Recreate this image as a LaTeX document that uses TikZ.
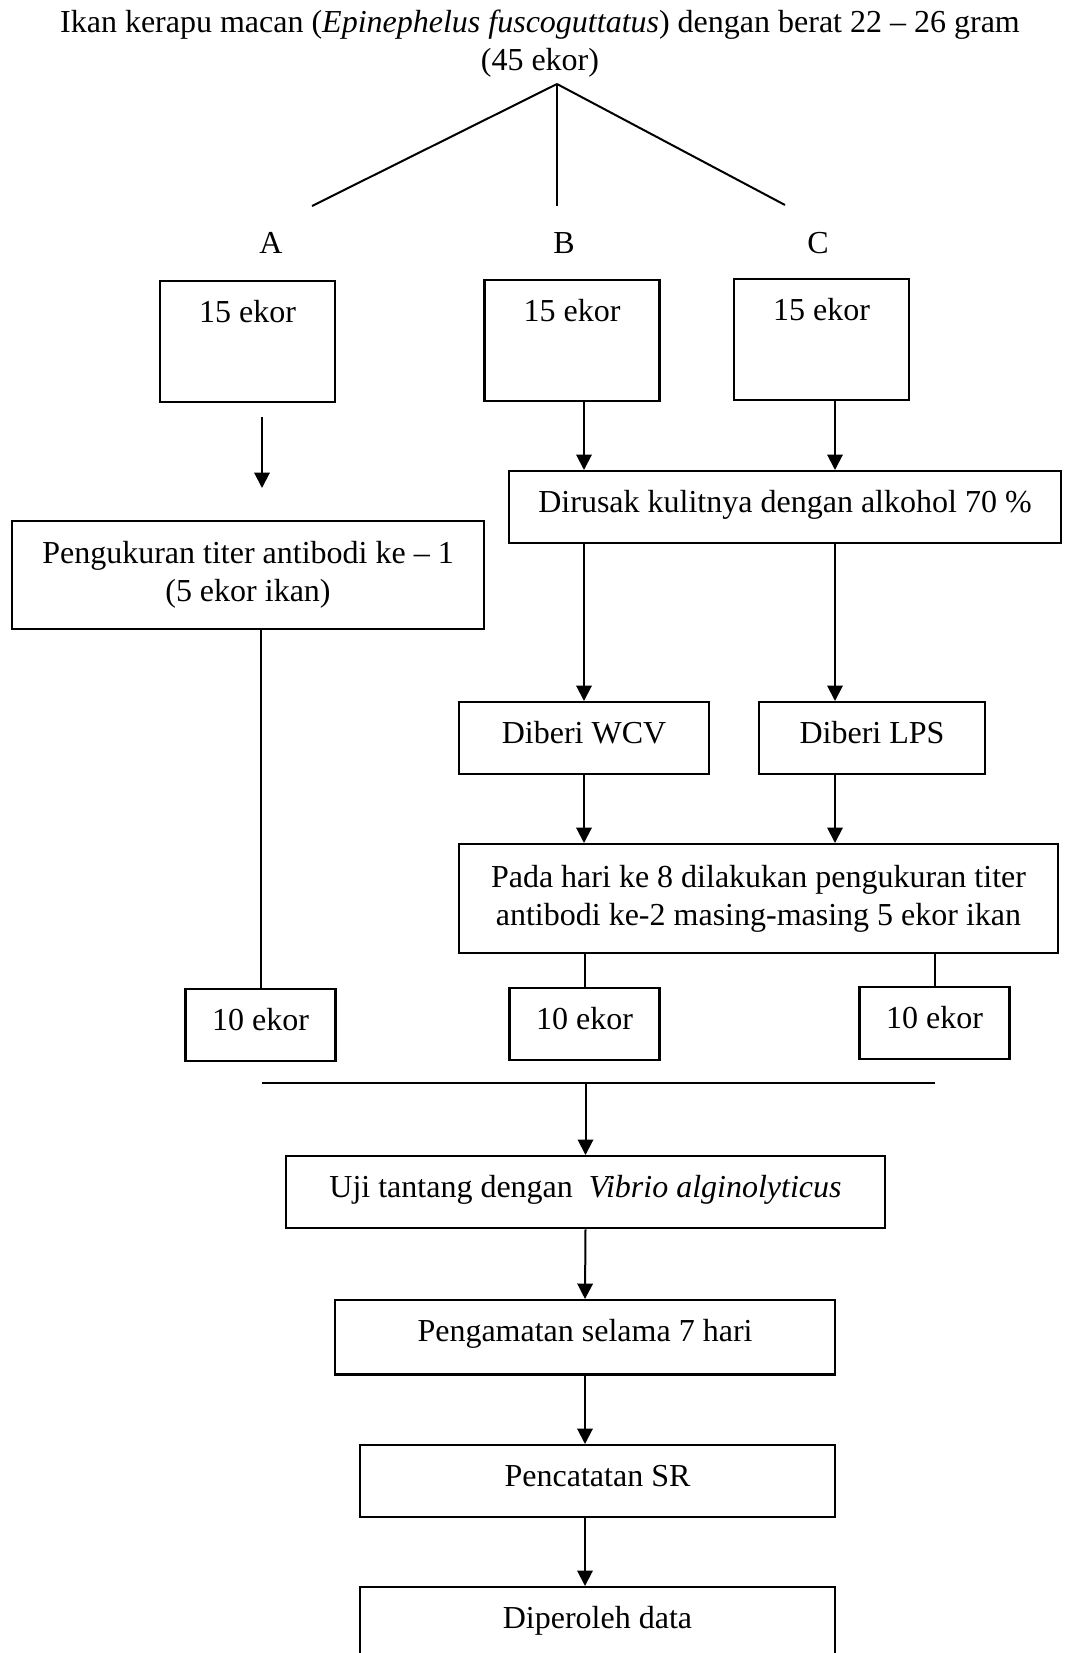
\documentclass[tikz,border=0pt]{standalone}
\usepackage{fontspec}
\setmainfont{Liberation Serif}
\usetikzlibrary{arrows.meta}

\tikzset{
  kotak/.style={draw, line width=0.9pt, inner sep=0pt},
  satu/.style={kotak, text height=15.6pt, text depth=11.4pt},
  panah/.style={-{Triangle[length=5.8pt, width=5.8pt]}, line width=0.75pt},
  garis/.style={line width=0.75pt}
}

\begin{document}
\begin{tikzpicture}[x=0.375pt, y=-0.375pt, font=\fontsize{12}{14.2}\selectfont]
        \useasboundingbox (0,0) rectangle (1064,1653);

        % Judul
        \node[align=center, inner sep=0pt] (judul) at (540,44) {Ikan kerapu macan (\textit{Epinephelus fuscoguttatus}) dengan berat 22 -- 26 gram\\(45 ekor)};

        % Percabangan
        \coordinate (puncak) at (557,84);
        \coordinate (ujungA) at (312,206);
        \coordinate (ujungB) at (557,206);
        \coordinate (ujungC) at (785,205);

        % Kelompok
        \node[inner sep=0pt] (labelA) at (271,243) {A};
        \node[inner sep=0pt] (labelB) at (564,243) {B};
        \node[inner sep=0pt] (labelC) at (818,243) {C};

        % 15 ekor
        \node[satu, minimum width=65.6pt, text depth=29.8pt, anchor=north] (ekorA) at (247.5,280) {15 ekor};
        \node[satu, minimum width=65.6pt, text depth=29.8pt, anchor=north] (ekorB) at (572,279) {15 ekor};
        \node[satu, minimum width=65.6pt, text depth=29.8pt, anchor=north] (ekorC) at (821.5,278) {15 ekor};

        % Dirusak
        \node[satu, minimum width=207pt, anchor=north] (dirusak) at (785,470) {Dirusak kulitnya dengan alkohol 70 \%};

        % Pengukuran ke-1
        \node[kotak, align=center, minimum width=177pt, minimum height=40.5pt, anchor=north] (pengukuran) at (248,520) {Pengukuran titer antibodi ke -- 1\\(5 ekor ikan)};

        % WCV dan LPS
        \node[satu, minimum width=93.75pt, anchor=north] (wcv) at (584,701) {Diberi WCV};
        \node[satu, minimum width=84.75pt, anchor=north] (lps) at (872,701) {Diberi LPS};

        % Pengukuran ke-2
        \node[kotak, align=center, minimum width=224.6pt, minimum height=40.9pt, anchor=north] (pada) at (758.5,843) {Pada hari ke 8 dilakukan pengukuran titer\\antibodi ke-2 masing-masing 5 ekor ikan};

        % 10 ekor
        \node[satu, minimum width=56.25pt, anchor=north] (sepuluhA) at (260.5,988) {10 ekor};
        \node[satu, minimum width=56.25pt, anchor=north] (sepuluhB) at (584.5,987) {10 ekor};
        \node[satu, minimum width=56.25pt, anchor=north] (sepuluhC) at (934.5,986) {10 ekor};

        % Uji tantang
        \node[satu, minimum width=224.6pt, anchor=north] (uji) at (585.5,1155) {Uji tantang dengan~ \textit{Vibrio alginolyticus}};

        % Pengamatan
        \node[satu, minimum width=187.5pt, text depth=12.2pt, anchor=north] (pengamatan) at (585,1299) {Pengamatan selama 7 hari};

        % Pencatatan
        \node[satu, minimum width=178pt, anchor=north] (pencatatan) at (597.5,1444) {Pencatatan SR};

        % Diperoleh data
        \node[satu, minimum width=178pt, text depth=25pt, anchor=north] (diperoleh) at (597.5,1586) {Diperoleh data};

        % Titik bantu
        \coordinate (panahA1) at (262,417);
        \coordinate (panahA2) at (262,488);
        \coordinate (jalurC) at (835,0);
        \coordinate (garisKiri) at (262,1083);
        \coordinate (garisKanan) at (935,1083);

        % Garis dan panah
        \draw[garis] (puncak) -- (ujungA);
        \draw[garis] (puncak) -- (ujungB);
        \draw[garis] (puncak) -- (ujungC);
        \draw[panah] (panahA1) -- (panahA2);
        \draw[panah] (ekorB.south -| wcv) -- (dirusak.north -| wcv);
        \draw[panah] (ekorC.south -| jalurC) -- (dirusak.north -| jalurC);
        \draw[garis] (pengukuran.south -| sepuluhA) -- (sepuluhA.north);
        \draw[panah] (dirusak.south -| wcv) -- (wcv.north);
        \draw[panah] (dirusak.south -| jalurC) -- (lps.north -| jalurC);
        \draw[panah] (wcv.south) -- (pada.north -| wcv);
        \draw[panah] (lps.south -| jalurC) -- (pada.north -| jalurC);
        \draw[garis] (pada.south -| sepuluhB) -- (sepuluhB.north);
        \draw[garis] (pada.south -| sepuluhC) -- (sepuluhC.north);
        \draw[garis] (garisKiri) -- (garisKanan);
        \draw[panah] (garisKiri -| uji) -- (uji.north);
        \draw[panah] (uji.south) -- (pengamatan.north);
        \draw[panah] (pengamatan.south) -- (pencatatan.north -| pengamatan);
        \draw[panah] (pencatatan.south -| pengamatan) -- (diperoleh.north -| pengamatan);
    \end{tikzpicture}
\end{document}
